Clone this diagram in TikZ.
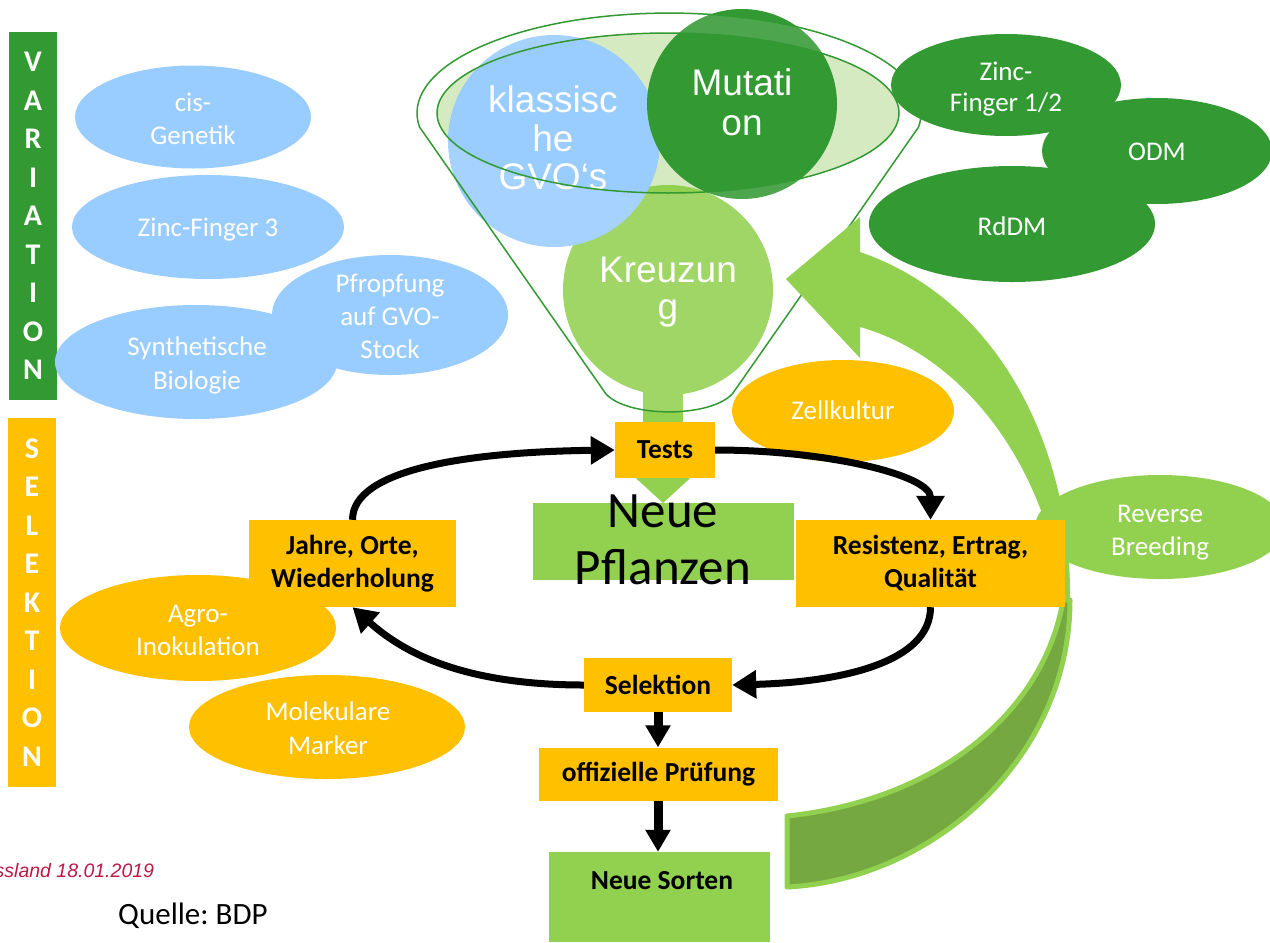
\documentclass[tikz,border=0pt]{standalone}
\usepackage{fontspec}
\setmainfont{Carlito}
\newfontfamily\arialf{Liberation Sans}
\usetikzlibrary{shapes.geometric,arrows.meta}
\definecolor{vgreen}{RGB}{51,153,51}
\definecolor{lblue}{RGB}{153,204,255}
\definecolor{sorange}{RGB}{255,192,0}
\definecolor{lgreen}{RGB}{146,208,80}
\definecolor{bgreen}{RGB}{117,168,64}
\definecolor{ffill}{RGB}{214,234,194}
\definecolor{datered}{RGB}{190,25,70}
\frenchspacing
\begin{document}
\begin{tikzpicture}[x=1pt,y=-1pt,
  ell/.style={ellipse, inner sep=0pt, draw=none},
  circ/.style={circle, inner sep=0pt, draw=none},
  rbox/.style={rectangle, inner sep=0pt, draw=none},
  wtext/.style={text=white, font=\fontsize{27}{33}\selectfont, align=center, inner sep=0pt},
  ctext/.style={text=white, font=\arialf\fontsize{37}{38.5}\selectfont, align=center, inner sep=0pt},
  btext/.style={font=\bfseries\fontsize{27.5}{33}\selectfont, align=center},
  bartext/.style={text=white, font=\bfseries\fontsize{30}{38.5}\selectfont, align=center, inner sep=0pt},
  cyc/.style={line width=7pt, -{Triangle[length=24pt,width=27pt]}},
  vdown/.style={line width=9pt, -{Triangle[length=22pt,width=24pt]}},
  fline/.style={draw=vgreen, line width=1.5pt}
]
\path[use as bounding box, clip] (0,0) rectangle (1270,943);

% side bars
\node[rbox, fill=vgreen, minimum width=48pt, minimum height=368pt, bartext] (var) at (33,216) {V\\A\\R\\I\\A\\T\\I\\O\\N};
\node[rbox, fill=sorange, minimum width=48pt, minimum height=369pt, bartext] (sel) at (32,602.5) {S\\E\\L\\E\\K\\T\\I\\O\\N};

% blue ellipses
\node[ell, fill=lblue, minimum width=236pt, minimum height=103pt] (cis) at (193,117) {};
\node[wtext] (cist) at (193,119) {cis-\\Genetik};
\node[ell, fill=lblue, minimum width=272pt, minimum height=104pt] (zf3) at (208,227) {};
\node[wtext] (zf3t) at (208,230) {Zinc-Finger 3};
\node[ell, fill=lblue, minimum width=282pt, minimum height=114pt] (syn) at (196,362) {};
\node[ell, fill=lblue, minimum width=236pt, minimum height=120pt] (pf) at (390,315) {};
\node[wtext, font=\fontsize{27}{34}\selectfont] (synt) at (197,365) {Synthetische\\Biologie};
\node[wtext] (pft) at (390,316) {Pfropfung\\auf GVO-\\Stock};

% orange ellipses left
\node[ell, fill=sorange, minimum width=276pt, minimum height=106pt] (agro) at (198,628) {};
\node[wtext] (agrot) at (198,630) {Agro-\\Inokulation};
\node[ell, fill=sorange, minimum width=276pt, minimum height=104pt] (mol) at (327,727) {};
\node[wtext, font=\fontsize{27}{34}\selectfont] (molt) at (328,728) {Molekulare\\Marker};

% funnel top fill
\fill[ffill] (668,113) ellipse [x radius=231, y radius=80];
% stem
\fill[lgreen] (643,300) rectangle (683,425);

% circles
\node[circ, fill=lgreen, minimum size=210pt] (kreuz) at (668,290) {};
\node[circ, fill=lblue, minimum size=212pt] (gvo) at (554,141) {};
\node[circ, fill=vgreen, minimum size=190pt] (mut) at (742,104) {};
\node[ctext] (gvot) at (553,138) {klassisc\\he\\GVO‘s};
\node[ctext, font=\arialf\fontsize{37}{40}\selectfont] (mutt) at (742,102) {Mutati\\on};
\node[ctext, font=\arialf\fontsize{37}{37}\selectfont] (kreuzt) at (668,292) {Kreuzun\\g};

% funnel body overlay and outline
\fill[white, opacity=0.13, even odd rule]
  (419.5,127) arc[start angle=172, end angle=368, x radius=252, y radius=100]
  -- (733,393) .. controls (712,418) and (628,418) .. (606,394) -- cycle
  (668,113) ellipse [x radius=231, y radius=80];
\draw[fline] (419.5,127) arc[start angle=172, end angle=368, x radius=252, y radius=100]
  -- (733,393) .. controls (712,418) and (628,418) .. (606,394) -- cycle;
\draw[fline] (668,113) ellipse [x radius=231, y radius=80];

% big curved arrow (Reverse Breeding)
\filldraw[fill=bgreen, draw=lgreen, line width=5pt, line join=round]
  (787,816) .. controls (940,800) and (1045,710) .. (1063,600)
  -- (1070,600) .. controls (1070,760) and (930,880) .. (787,887) -- cycle;
\fill[lgreen] (1070,600) .. controls (1072,450) and (1000,300) .. (860,252)
  -- (860,217) -- (786,279) -- (860,358) -- (860,327)
  .. controls (960,355) and (1045,460) .. (1063,600) -- cycle;

% Zellkultur
\node[ell, fill=sorange, minimum width=222pt, minimum height=102pt] (zell) at (843,411) {};
\node[wtext] (zellt) at (843,410) {Zellkultur};

% dark green ellipses
\node[ell, fill=vgreen, minimum width=230pt, minimum height=102pt] (zf12) at (1006,85) {};
\node[ell, fill=vgreen, minimum width=230pt, minimum height=106pt] (odm) at (1157,151) {};
\node[ell, fill=vgreen, minimum width=286pt, minimum height=116pt] (rddm) at (1012,224) {};
\node[wtext, font=\fontsize{27}{31}\selectfont] (zf12t) at (1006,89) {Zinc-\\Finger 1/2};
\node[wtext] (odmt) at (1157,152) {ODM};
\node[wtext] (rddmt) at (1012,226) {RdDM};

% Reverse Breeding
\node[ell, fill=lgreen, minimum width=250pt, minimum height=104pt] (rev) at (1160,527) {};
\node[wtext] (revt) at (1160,533) {Reverse\\Breeding};

% centre: Neue Pflanzen and Tests
\node[rbox, fill=lgreen, minimum width=261pt, minimum height=77pt] (pfl) at (663.5,541.5) {};
\fill[lgreen] (627,470) -- (699,470) -- (663,503) -- cycle;
\node[inner sep=0pt, align=center, font=\fontsize{51}{57}\selectfont] (pflt) at (663,540) {Neue\\Pflanzen};
\node[rbox, fill=sorange, minimum width=100pt, minimum height=56pt, btext] (tests) at (665,450) {Tests};

% cycle boxes
\node[rbox, fill=sorange, minimum width=207pt, minimum height=87pt, btext] (jahre) at (352.5,563.5) {Jahre, Orte,\\Wiederholung};
\node[rbox, fill=sorange, minimum width=269pt, minimum height=87pt, btext] (resist) at (930.5,563.5) {Resistenz, Ertrag,\\Qualität};
\node[rbox, fill=sorange, minimum width=148pt, minimum height=54pt, btext] (selek) at (658,685) {Selektion};
\node[rbox, fill=sorange, minimum width=239pt, minimum height=53pt, btext] (offiz) at (658.5,774) {offizielle Prüfung};
\node[rbox, fill=lgreen, minimum width=221pt, minimum height=90pt] (sorten) at (659.5,897) {};
\node[btext, inner sep=0pt] (sortent) at (662,881) {Neue Sorten};

% cycle arrows
\draw[cyc] (jahre.north) .. controls +(0,-50) and +(-150,2) .. (tests.west);
\draw[cyc] (tests.east) .. controls +(110,0) and +(0,-45) .. (resist.north);
\draw[cyc] (resist.south) .. controls +(0,55) and +(110,-3) .. (selek.east);
\draw[cyc] (selek.west) .. controls +(-130,0) and +(45,40) .. (jahre.south);
\draw[vdown] (selek.south) -- (selek.south |- offiz.north);
\draw[vdown] (selek.south |- offiz.south) -- (selek.south |- sorten.north);

% footer texts
\node[anchor=base west, inner sep=0pt, text=datered, font=\arialf\itshape\fontsize{19.5}{22}\selectfont] (date) at (-5.5,877) {ssland 18.01.2019};
\node[anchor=base west, inner sep=0pt, font=\fontsize{31}{36}\selectfont] (quelle) at (118,924) {Quelle: BDP};
\end{tikzpicture}
\end{document}
